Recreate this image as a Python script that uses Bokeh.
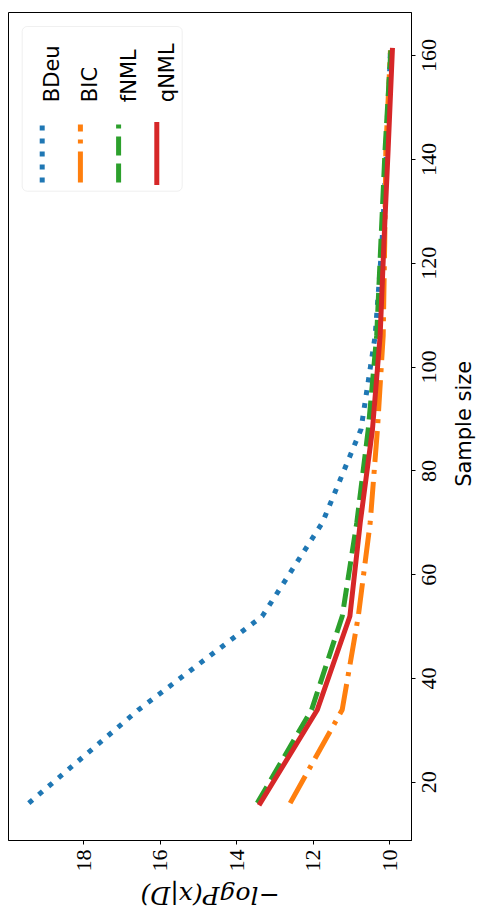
import math
from bokeh.plotting import figure
from bokeh.models import Range1d, FixedTicker, Label, BoxAnnotation
from bokeh.layouts import column, row
from bokeh.core.properties import value
from bokeh.embed import file_html
from bokeh.resources import INLINE

# ---- data ----
sample_size = [16, 34, 52, 70, 88, 106, 124, 142, 161]
bdeu = [19.43, 16.56, 13.33, 11.76, 10.75, 10.38, 10.20, 10.08, 9.98]
bic = [12.60, 11.24, 10.82, 10.51, 10.32, 10.17, 10.13, 10.10, 9.98]
fnml = [13.46, 12.04, 11.24, 10.86, 10.56, 10.34, 10.23, 10.12, 9.97]
qnml = [13.38, 11.89, 11.04, 10.77, 10.45, 10.25, 10.15, 10.04, 9.93]
series_names = ["BDeu", "BIC", "fNML", "qNML"]
score_ticks = [10, 12, 14, 16, 18]
size_ticks = [20, 40, 60, 80, 100, 120, 140, 160]
size_tick_labels = ["20", "40", "60", "80", "100", "120", "140", "160"]
size_label = "Sample size"
score_label = "\u2212logP(x|D)"

# ---- styles ----
colors = ["#1f77b4", "#ff7f0e", "#2ca02c", "#d62728"]
dashes = ["5 8", "31 8 4 8", "19 8", "solid"]
caps = ["butt", "butt", "butt", "square"]
LW = 5

FL, FT, FW, FH = 8, 12, 403, 828      # frame placement (px)
BR, BB = 5, 40                          # right / bottom borders of main plot
RW = 66                                  # width of right strip
BH = 38                                  # height of bottom strip
X0, X1 = 19.96, 9.43
Y0, Y1 = 8.8, 168.3

y_range = Range1d(Y0, Y1)
p = figure(frame_width=FW, frame_height=FH, x_range=Range1d(X0, X1), y_range=y_range,
           y_axis_location="right", output_backend="svg", toolbar_location=None,
           min_border_left=FL, min_border_top=FT, min_border_right=BR,
           min_border_bottom=BB)
p.grid.visible = False
p.outline_line_color = "black"
p.outline_line_width = 1

for ax, ticks in ((p.xaxis[0], score_ticks), (p.yaxis[0], size_ticks)):
    ax.ticker = FixedTicker(ticks=ticks, minor_ticks=[])
    ax.major_tick_out = 4
    ax.major_tick_in = 0
    ax.minor_tick_out = 0
    ax.minor_tick_in = 0
    ax.axis_line_color = "black"
    ax.major_tick_line_color = "black"

xa = p.xaxis[0]
xa.major_label_text_font = "Liberation Serif"
xa.major_label_text_font_size = "22px"
xa.major_label_text_color = "black"
xa.major_label_orientation = math.pi / 2
xa.major_label_standoff = 5

# right axis: tick marks only; its labels are drawn centred in the strip beside it
ya = p.yaxis[0]
ya.major_label_overrides = {t: "" for t in size_ticks}
ya.major_label_text_font_size = "0px"
ya.major_label_standoff = 0

series = [bdeu, bic, fnml, qnml]
for vals, c, d, cap in zip(series, colors, dashes, caps):
    p.line(x=vals, y=sample_size, line_color=c, line_width=LW, line_dash=d,
           line_cap=cap)

# helpers: frame-relative pixel -> data coordinate (layout only)
def dx(px):
    return X0 + (X1 - X0) * px / FW

def dy(py):
    return Y1 - (Y1 - Y0) * py / FH

# legend (rotated, like the reference)
p.add_layout(BoxAnnotation(left=dx(13.7), right=dx(173.7), top=dy(14), bottom=dy(178.7),
                           fill_color="white", fill_alpha=0.8,
                           line_color="#cccccc", line_width=1, border_radius=5,
                           level="underlay"))
for i, (name, c, d, cap) in enumerate(zip(series_names, colors, dashes, caps)):
    lx = 33.7 + 38.2 * i
    p.segment(x0=[dx(lx)], y0=[dy(170)], x1=[dx(lx)], y1=[dy(112)],
              line_color=c, line_width=LW, line_dash=d, line_cap=cap)
    p.add_layout(Label(x=dx(43.5 + 38.3 * i), y=dy(89.7), text=name, angle=math.pi / 2,
                       text_align="left", text_baseline="alphabetic",
                       text_font="DejaVu Sans", text_font_size="21px",
                       text_color="black"))

# right strip: tick labels of the sample-size axis and its title
pr = figure(frame_width=RW, frame_height=FH, x_range=Range1d(0, RW), y_range=y_range,
            x_axis_location=None, y_axis_location=None, output_backend="svg",
            toolbar_location=None, min_border_left=0, min_border_right=0,
            min_border_top=FT, min_border_bottom=BB)
pr.grid.visible = False
pr.outline_line_color = None
pr.text(x=[12.5] * len(size_ticks), y=size_ticks, text=size_tick_labels,
        angle=math.pi / 2, text_align="center", text_baseline="middle",
        text_font=value("Liberation Serif"), text_font_size=value("22px"),
        text_color="black")
pr.add_layout(Label(x=47.5, y=dy(423.3 - FT), text=size_label, angle=math.pi / 2,
                    text_align="center", text_baseline="alphabetic",
                    text_font="DejaVu Sans", text_font_size="21px", text_color="black"))

# bottom strip: title of the score axis (upside down, as in the reference)
W_ALL = FL + FW + BR + RW
pb = figure(frame_width=W_ALL, frame_height=BH, x_range=Range1d(0, W_ALL),
            y_range=Range1d(0, BH), x_axis_location=None, y_axis_location=None,
            output_backend="svg", toolbar_location=None, min_border=0)
pb.grid.visible = False
pb.outline_line_color = None
pb.add_layout(Label(x=FL + FW / 2, y=BH - 15, text=score_label, angle=math.pi,
                    text_align="center", text_baseline="middle",
                    text_font="DejaVu Serif", text_font_style="italic",
                    text_font_size="25px", text_color="black"))

layout = column(row(p, pr), pb)
open("out.html", "w").write(file_html(layout, INLINE))
